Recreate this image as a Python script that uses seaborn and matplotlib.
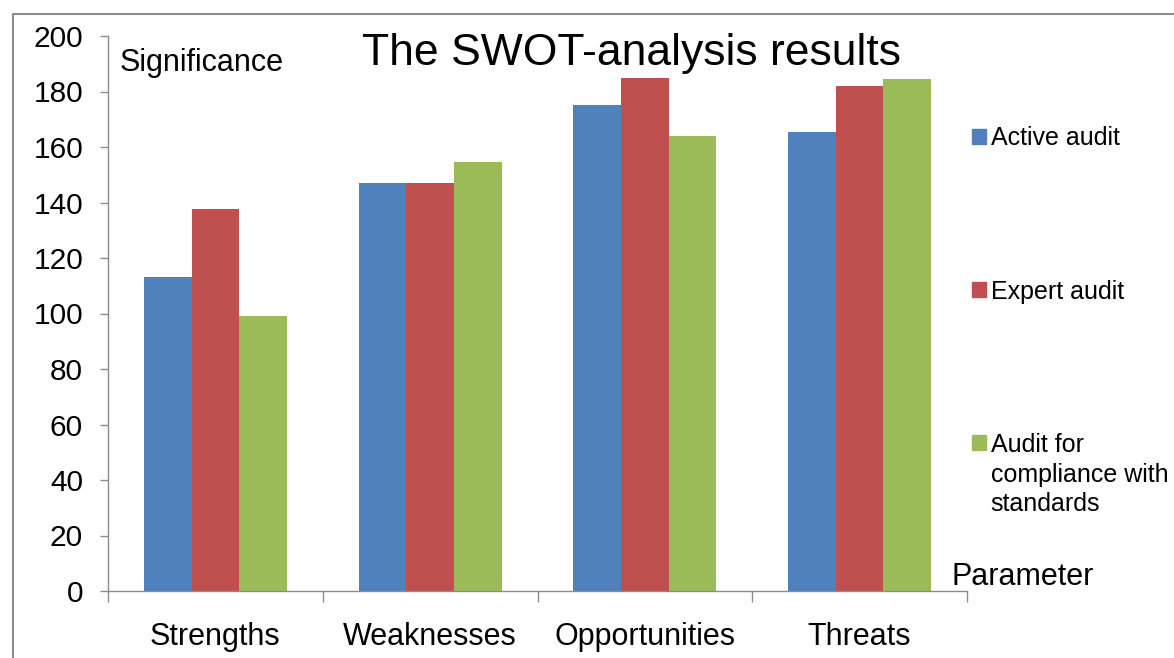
import matplotlib
matplotlib.use("Agg")
import matplotlib.pyplot as plt
import matplotlib.patches as mpatches
from matplotlib.legend_handler import HandlerPatch
from matplotlib.ticker import FixedLocator
import seaborn as sns
import pandas as pd

# --- data ---
categories = ["Strengths", "Weaknesses", "Opportunities", "Threats"]
series = ["Active audit", "Expert audit", "Audit for\ncompliance with\nstandards"]
active_audit = [113, 147, 175, 165.5]
expert_audit = [137.5, 147, 185, 182]
compliance_audit = [99, 154.5, 164, 184.5]
colors = ["#4F81BD", "#C0504D", "#9BBB59"]
y_ticks = list(range(0, 201, 20))

rows = []
for name, vals in zip(series, [active_audit, expert_audit, compliance_audit]):
    for cat, v in zip(categories, vals):
        rows.append({"Parameter": cat, "Audit": name, "Significance": v})
df = pd.DataFrame(rows)

sns.set_style("white")
plt.rcParams["font.family"] = ["Liberation Sans", "DejaVu Sans"]
plt.rcParams["text.color"] = "black"
plt.rcParams["xtick.labelcolor"] = "black"
plt.rcParams["ytick.labelcolor"] = "black"

fig = plt.figure(figsize=(11.74, 6.58), dpi=100)
ax = fig.add_axes([108 / 1174, 1 - 591 / 658, (967 - 108) / 1174, (591 - 36) / 658])

sns.barplot(data=df, x="Parameter", y="Significance", hue="Audit",
            palette=colors, width=0.665, gap=0, saturation=1,
            linewidth=0, legend=False, ax=ax)

ax.set_ylim(0, 200)
ax.set_xlim(-0.5, 3.5)
ax.set_yticks(y_ticks)
ax.set_xlabel("")
ax.set_ylabel("")
for side in ["top", "right"]:
    ax.spines[side].set_visible(False)
for side in ["left", "bottom"]:
    ax.spines[side].set_color("#8c8c8c")
    ax.spines[side].set_linewidth(1.0)

ax.tick_params(axis="y", which="major", length=6, width=1, color="#8c8c8c",
               pad=12, labelsize=21.5, direction="out", left=True)
ax.tick_params(axis="x", which="major", length=0, pad=22, labelsize=22)
ax.xaxis.set_minor_locator(FixedLocator([-0.5, 0.5, 1.5, 2.5, 3.5]))
ax.tick_params(axis="x", which="minor", length=8, width=1, color="#8c8c8c",
               direction="out", bottom=True)

ax.text(12 / 859, 1 - 27 / 555, "Significance", transform=ax.transAxes,
        fontsize=22, va="center", ha="left")

fig.text(632 / 1174, 1 - 53 / 658, "The SWOT-analysis results",
         fontsize=32, ha="center", va="center")
fig.text(951 / 1174, 1 - 577 / 658, "Parameter", fontsize=22,
         ha="left", va="center")

# legend with the marker at the first line of each label
fs = 18
line_sp = 1.3
handles = [mpatches.Patch(color=c) for c in colors]


def shifted_patch(shift):
    def make(legend, orig_handle, xdescent, ydescent, width, height, fontsize):
        return mpatches.Rectangle((-xdescent, -ydescent + shift), width, height)
    return make


hmap = {handles[2]: HandlerPatch(patch_func=shifted_patch(line_sp * fs))}
leg = fig.legend(handles, series, loc="upper left",
                 bbox_to_anchor=(972 / 1174, 1 - 126 / 658), frameon=False,
                 fontsize=fs, handlelength=0.55, handleheight=0.55,
                 handletextpad=0.2, labelspacing=5.18, borderpad=0,
                 borderaxespad=0, handler_map=hmap)
for t in leg.get_texts():
    t.set_linespacing(line_sp)

# grey frame around the chart area
fig.patches.append(mpatches.Rectangle((13 / 1174, -0.1), 1.2, 1.1 - 14 / 658,
                                      transform=fig.transFigure, fill=False,
                                      edgecolor="#8c8c8c", linewidth=1.5))

fig.savefig("out.png", dpi=100)
